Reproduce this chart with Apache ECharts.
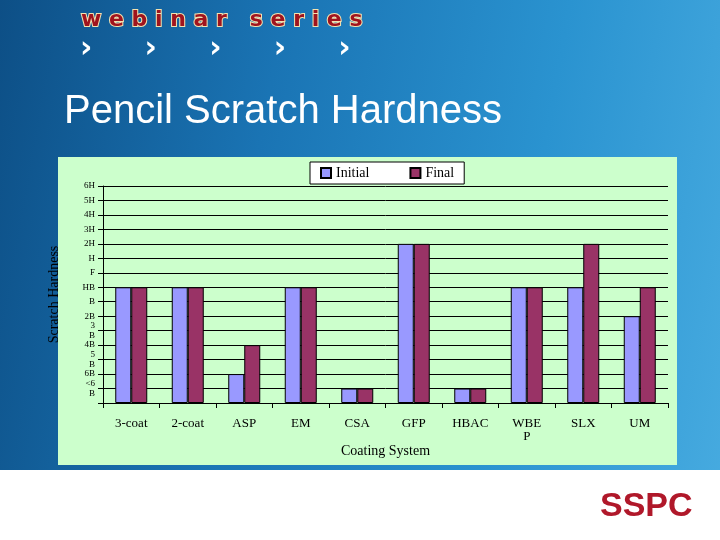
<!DOCTYPE html><html><head><meta charset="utf-8">
<script src="https://cdn.jsdelivr.net/npm/echarts@6/dist/echarts.min.js"></script>
<style>html,body{margin:0;padding:0}
#c{width:720px;height:540px;background:linear-gradient(100deg,#0d4f86 0%,#1a74b4 35%,#2a93d0 70%,#47abe0 100%);}
</style></head><body><div id="c"></div>
<script>
const categories=["3-coat","2-coat","ASP","EM","CSA","GFP","HBAC","WBE\nP","SLX","UM"];
const hardnessLabels=["","<6\nB","6B","5\nB","4B","3\nB","2B","B","HB","F","H","2H","3H","4H","5H","6H"];
const initialValues=[8,8,2,8,1,11,1,8,8,6];
const finalValues=[8,8,4,8,1,11,1,8,11,8];
const ch=echarts.init(document.getElementById('c'));
const serif='"Liberation Serif","Times New Roman",serif';
ch.setOption({
 backgroundColor:'transparent',
 graphic:[
  {type:'rect',shape:{x:58,y:157,width:619,height:308},style:{fill:'#ccffcc'},z:-10},
  {type:'rect',shape:{x:0,y:470,width:720,height:70},style:{fill:'#ffffff'},z:-10},
  {type:'text',left:80,top:8,style:{text:'w e b i n a r   s e r i e s',fill:'#a0141e',font:'bold 22px "DejaVu Sans",sans-serif',stroke:'#f3e3b0',lineWidth:2}},
  {type:'text',left:80,top:34,style:{text:'›     ›     ›     ›     ›',fill:'#ffffff',font:'bold 30px "DejaVu Sans"'}},
  {type:'text',left:64,top:92,style:{text:'Pencil Scratch Hardness',fill:'#ffffff',font:'40px "Liberation Sans",Arial,sans-serif'}},
  {type:'text',left:600,top:490,style:{text:'SSPC',fill:'#b0182a',font:'bold 34px "Liberation Sans"'}}
 ],
 legend:{top:162,left:310,icon:'rect',itemWidth:10,itemHeight:10,itemGap:40,backgroundColor:'#ffffff',borderColor:'#000',borderWidth:1,padding:[4,10],
  textStyle:{fontFamily:serif,fontSize:14,color:'#000'},data:['Initial','Final']},
 grid:{left:103,right:52,top:186,bottom:137},
 xAxis:{type:'category',data:categories,axisLine:{lineStyle:{color:'#000'}},axisTick:{show:true,lineStyle:{color:'#000'}},
  axisLabel:{fontFamily:serif,fontSize:13,color:'#000',margin:14,lineHeight:13},
  name:'Coating System',nameLocation:'middle',nameGap:40,nameTextStyle:{fontFamily:serif,fontSize:14,color:'#000'}},
 yAxis:{type:'value',min:0,max:15,interval:1,
  axisLine:{show:true,lineStyle:{color:'#000'}},axisTick:{show:true,lineStyle:{color:'#000'}},
  splitLine:{lineStyle:{color:'#000',width:1}},
  axisLabel:{formatter:v=>hardnessLabels[v]||'',fontFamily:serif,fontSize:9,color:'#000',lineHeight:10},
  name:'Scratch Hardness',nameLocation:'middle',nameGap:42,nameTextStyle:{fontFamily:serif,fontSize:14,color:'#000'}},
 series:[
  {name:'Initial',type:'bar',data:initialValues,barWidth:16,barGap:'0%',itemStyle:{color:'#9999ff',borderColor:'#000',borderWidth:1}},
  {name:'Final',type:'bar',data:finalValues,barWidth:16,itemStyle:{color:'#993366',borderColor:'#000',borderWidth:1}}
 ]
});
</script></body></html>
